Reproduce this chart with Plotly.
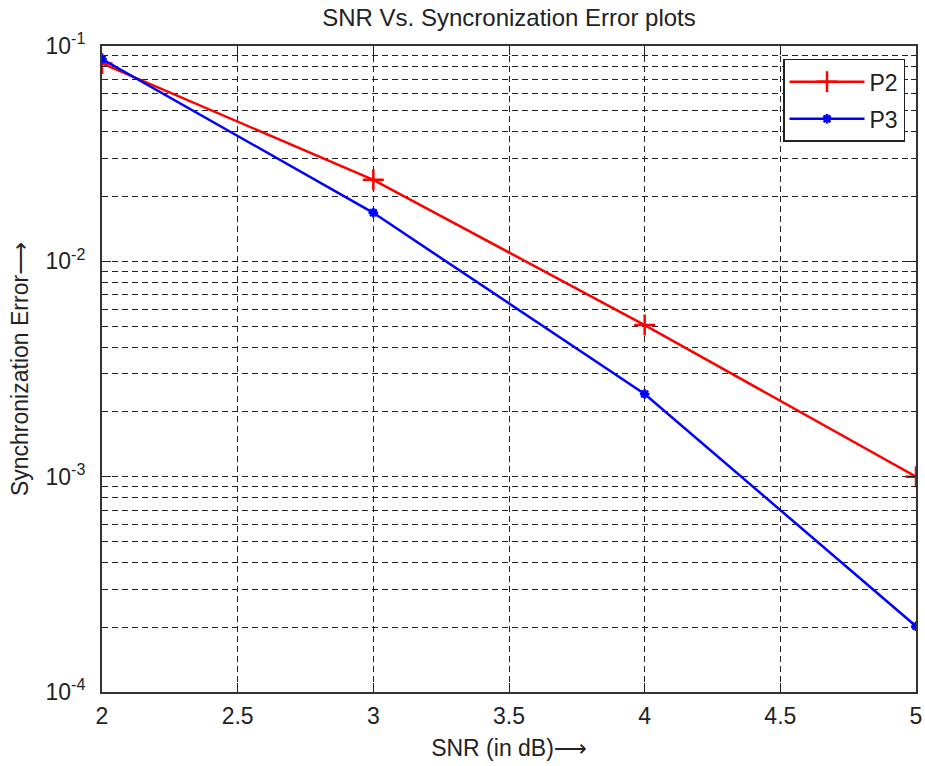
import plotly.graph_objects as go

snr = [2, 3, 4, 5]
p2 = [0.083, 0.0239, 0.00506, 0.0010]
p3 = [0.087, 0.0168, 0.00242, 0.000202]
x_ticks = [2, 2.5, 3, 3.5, 4, 4.5, 5]
x_ticktext = ["2", "2.5", "3", "3.5", "4", "4.5", "5"]
decades = [-4, -3, -2, -1]
y_ticks = [10.0 ** d for d in decades]
y_ticktext = [f"10<sup>{d}</sup>" for d in decades]

fnt = "Liberation Sans, Arial, sans-serif"
arrow = "<span style='font-family:DejaVu Sans'>⟶</span>"
fig = go.Figure()
fig.add_trace(go.Scatter(x=snr, y=p2, name="P2", mode="lines+markers", legendgroup="a",
                         line=dict(color="#ff0000", width=2.5),
                         marker=dict(symbol="cross-thin", size=15, line=dict(color="#ff0000", width=2.5))))
fig.add_trace(go.Scatter(x=snr, y=p3, name="P3", mode="lines+markers", legendgroup="b",
                         line=dict(color="#0000ff", width=2.5),
                         marker=dict(symbol="asterisk", size=8, line=dict(color="#0000ff", width=2.5))))

fig.update_layout(
    width=925, height=766,
    margin=dict(l=102, r=9, t=46, b=74, autoexpand=False),
    paper_bgcolor="white", plot_bgcolor="white",
    font=dict(family=fnt, size=23, color="#222"),
    title=dict(text="SNR Vs. Syncronization Error plots", x=0.5, xanchor="center",
               xref="paper",
               y=0.977, yanchor="middle", font=dict(size=24, family=fnt)),
    legend=dict(x=0.9865, y=0.98, xanchor="right", yanchor="top",
                bordercolor="#222", borderwidth=1.5, bgcolor="white",
                font=dict(size=23, family=fnt), itemwidth=75,
                traceorder="grouped", tracegroupgap=4),
    showlegend=True,
)
fig.update_xaxes(range=[2, 5], tickvals=x_ticks, ticktext=x_ticktext, automargin=False,
                 showgrid=True, gridcolor="#222", griddash="6px,4px", gridwidth=1,
                 showline=True, linecolor="#333", linewidth=2, mirror="ticks",
                 ticks="inside", ticklen=9, tickcolor="#222", zeroline=False,
                 tickfont=dict(size=23), ticklabelstandoff=2,
                 title=dict(text="SNR (in dB)" + arrow, font=dict(size=23), standoff=12))
fig.update_yaxes(type="log", range=[-4, -1], tickvals=y_ticks, ticktext=y_ticktext, automargin=False,
                 showgrid=True, gridcolor="#222", griddash="6px,4px", gridwidth=1,
                 showline=True, linecolor="#333", linewidth=2, mirror="ticks",
                 ticks="inside", ticklen=9, tickcolor="#222", zeroline=False,
                 minor=dict(dtick="D1", showgrid=True, gridcolor="#222", griddash="6px,4px",
                            gridwidth=1, ticks="inside", ticklen=5, tickcolor="#222"),
                 tickfont=dict(size=23), ticklabelstandoff=10,
                 title=dict(text="Synchronization Error" + arrow, font=dict(size=23), standoff=10))
fig.write_html("out.html", config={"displayModeBar": False},
               post_script="document.body.style.margin='0';document.body.style.overflow='hidden';")
